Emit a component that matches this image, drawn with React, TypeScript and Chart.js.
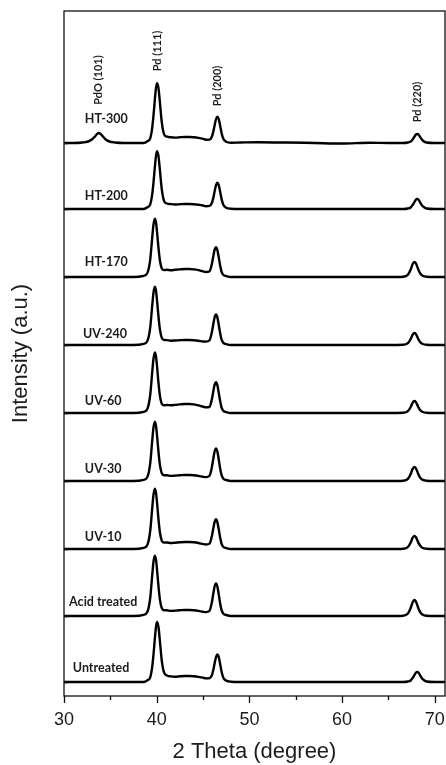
import { useEffect, useRef } from "react";
import { Chart, registerables } from "chart.js";
Chart.register(...registerables);

// 2θ sampling positions (degrees)
const twoTheta = [
  30, 31, 32,
  32.6, 33.0, 33.3, 33.55, 33.75, 33.95, 34.2, 34.5, 34.9, 35.5,
  36.5, 37.5, 38.6,
  39.0, 39.3, 39.5, 39.65, 39.8, 39.93, 40.05, 40.2, 40.35, 40.55, 40.8, 41.1,
  41.5, 42.0, 42.5, 43.0, 43.5, 44.0, 44.5, 45.0,
  45.3, 45.7, 45.95, 46.1, 46.25, 46.4, 46.55, 46.7, 46.85, 47.0, 47.2, 47.5, 48.0,
  49, 51, 54, 57, 60, 63, 65,
  66.6, 67.1, 67.4, 67.6, 67.8, 67.95, 68.1, 68.25, 68.45, 68.7, 69.1,
  70, 71.1,
];

// Intensities (a.u.) above each pattern's own baseline
const ht300 = [
  0, 0, 0.5,
  1.5, 3.5, 6.2, 8.8, 10, 9, 6.5, 3.5, 1.5, 0.5,
  0, 0, 0,
  1.8, 4.7, 14.2, 27.1, 43.4, 55.5, 59.9, 54.3, 40.2, 20.7, 8.6, 6.3,
  5.7, 5.4, 5.7, 6, 6, 5.7, 5.1, 4.2,
  3.3, 3.4, 6.2, 11.1, 17.8, 24, 26.4, 23.7, 17.1, 9.9, 3.9, 1.3, 0.3,
  0.5, 0.8, 0.5, 0, -0.5, 0.3, 0,
  0, 0.5, 1.4, 3.4, 6.3, 8.3, 9, 8.3, 5.6, 2.5, 0.5,
  0, 0,
];
const ht200 = [
  0, 0, 0,
  0, 0, 0, 0, 0, 0, 0, 0, 0, 0,
  0, 0, 0,
  1.7, 4.6, 13.7, 26.2, 41.9, 53.5, 57.8, 52.3, 38.6, 19.6, 7.9, 5.5,
  4.9, 4.5, 4.8, 5, 5, 4.8, 4.3, 3.5,
  2.8, 3.1, 6, 10.9, 17.7, 23.9, 26.4, 23.6, 17, 9.9, 3.9, 1.3, 0.3,
  0, 0, 0, 0, 0, 0, 0,
  0, 0.5, 1.5, 3.8, 7, 9.2, 10, 9.2, 6.2, 2.8, 0.5,
  0, 0,
];
const ht170 = [
  0, 0, 0,
  0, 0, 0, 0, 0, 0, 0, 0, 0, 0,
  0, 0, 1.2,
  4.1, 17.4, 37.7, 52.2, 58.4, 54.2, 43.5, 28.3, 16.3, 8.6, 6.9, 7.2,
  6.8, 7.2, 7.6, 8, 8, 7.6, 6.8, 5.6,
  5, 5.7, 13, 20.5, 27.3, 29.8, 26.7, 19.3, 11.2, 5.2, 2, 0.9, 0,
  0, 0, 0, 0, 0, 0, 0,
  0.3, 2.3, 7.5, 12.8, 15, 13.8, 10.5, 6.8, 3.3, 1.2, 0.3,
  0, 0,
];
const uv240 = [
  0, 0, 0,
  0, 0, 0, 0, 0, 0, 0, 0, 0, 0,
  0, 0, 1.2,
  4.1, 17.4, 37.7, 52.2, 58.3, 53.9, 43.1, 27.7, 15.4, 7.1, 5, 4.9,
  4.3, 4.5, 4.8, 5, 5, 4.8, 4.3, 3.5,
  3.4, 4.8, 12.7, 20.5, 27.8, 30.5, 27.4, 19.8, 11.5, 5.4, 2.1, 0.9, 0,
  0, 0, 0, 0, 0, 0, 0,
  0.2, 1.8, 6, 10.2, 12, 11, 8.4, 5.4, 2.6, 1, 0.2,
  0, 0,
];
const uv60 = [
  0, 0, 0,
  0, 0, 0, 0, 0, 0, 0, 0, 0, 0,
  0, 0, 1.2,
  4.2, 18, 39, 54, 60.5, 56.1, 45.2, 29.4, 17.1, 9.3, 7.7, 8,
  7.7, 8.1, 8.6, 9, 9, 8.6, 7.7, 6.3,
  5.6, 6.2, 13.7, 21.3, 28.4, 30.9, 27.6, 19.9, 11.7, 5.4, 2.1, 0.9, 0,
  0, 0, 0, 0, 0, 0, 0,
  0.2, 1.8, 6, 10.2, 12, 11, 8.4, 5.4, 2.6, 1, 0.2,
  0, 0,
];
const uv30 = [
  0, 0, 0,
  0, 0, 0, 0, 0, 0, 0, 0, 0, 0,
  0, 0, 1.2,
  4.1, 17.7, 38.4, 53.1, 59.3, 54.9, 44, 28.3, 15.9, 7.7, 5.7, 5.7,
  5.1, 5.4, 5.7, 6, 6, 5.7, 5.1, 4.2,
  3.9, 5.3, 13.7, 22, 29.7, 32.6, 29.2, 21.1, 12.3, 5.8, 2.2, 1, 0,
  0, 0, 0, 0, 0, 0, 0,
  0.3, 2.1, 7, 11.9, 14, 12.9, 9.8, 6.3, 3.1, 1.1, 0.3,
  0, 0,
];
const uv10 = [
  0, 0, 0,
  0, 0, 0, 0, 0, 0, 0, 0, 0, 0,
  0, 0, 1.2,
  4.2, 18, 39, 54, 60.4, 55.9, 44.9, 29, 16.5, 8.3, 6.4, 6.5,
  6, 6.3, 6.7, 7, 7, 6.7, 6, 4.9,
  4.5, 5.4, 12.8, 20.3, 27.2, 29.7, 26.6, 19.2, 11.2, 5.2, 2, 0.9, 0,
  0, 0, 0, 0, 0, 0, 0,
  0.3, 2, 6.5, 11.1, 13, 12, 9.1, 5.9, 2.9, 1, 0.3,
  0, 0,
];
const acidTreated = [
  0, 0, 0,
  0, 0, 0, 0, 0, 0, 0, 0, 0, 0,
  0, 0, 1.2,
  4.2, 18, 39, 54, 60.3, 55.8, 44.7, 28.8, 16.2, 7.8, 5.7, 5.7,
  5.1, 5.4, 5.7, 6, 6, 5.7, 5.1, 4.2,
  3.9, 5.3, 13.7, 22, 29.7, 32.6, 29.2, 21.1, 12.3, 5.8, 2.2, 1, 0,
  0, 0, 0, 0, 0, 0, 0,
  0.3, 2.4, 8, 13.6, 16, 14.7, 11.2, 7.2, 3.5, 1.3, 0.3,
  0, 0,
];
const untreated = [
  0, 0, 0,
  0, 0, 0, 0, 0, 0, 0, 0, 0, 0,
  0, 0, 0,
  1.8, 4.7, 14.2, 27.1, 43.4, 55.6, 60, 54.5, 40.5, 21.2, 9.3, 6.5,
  5.6, 5.3, 5.7, 6, 6, 5.7, 5.1, 4.3,
  3.6, 3.7, 6.7, 11.7, 18.7, 25, 27.5, 24.7, 17.8, 10.3, 4.1, 1.4, 0.3,
  0, 0, 0, 0, 0, 0, 0,
  0, 0.5, 1.5, 3.8, 7, 9.2, 10, 9.2, 6.2, 2.8, 0.5,
  0, 0,
];

const sampleNames = ["HT-300", "HT-200", "HT-170", "UV-240", "UV-60", "UV-30", "UV-10", "Acid treated", "Untreated"];
const sampleSeries = [ht300, ht200, ht170, uv240, uv60, uv30, uv10, acidTreated, untreated];
// vertical stacking offset of each pattern (a.u.)
const stackOffsets = [553, 487, 419, 351, 283, 215, 147, 80, 14];
// sample label anchor: 2θ of label's left edge, height above baseline
const labelTheta = [32.25, 32.25, 32.25, 32.05, 32.25, 32.25, 32.25, 30.55, 30.95];
const labelRise = [24, 13, 15, 11, 12, 12, 12, 14, 14];

const peakNames = ["PdO (101)", "Pd (111)", "Pd (200)", "Pd (220)"];
const peakTheta = [33.77, 40.03, 46.6, 68.17];
const peakLabelLevel = [616, 645, 610, 594];

const xMajorTicks = [30, 40, 50, 60, 70];
const xMinorTicks = [35, 45, 55, 65];
const xMin = 30;
const xMax = 71.1;
const yMin = 0;
const yMax = 685;

const overlay = {
  id: "overlay",
  afterDatasetsDraw(chart: any) {
    const { ctx, chartArea: a, scales } = chart;
    const x = scales.x;
    const y = scales.y;
    ctx.save();
    ctx.strokeStyle = "#111";
    ctx.lineWidth = 1.3;
    ctx.strokeRect(a.left, a.top, a.right - a.left, a.bottom - a.top);
    ctx.beginPath();
    for (const v of xMajorTicks) {
      const px = Math.round(x.getPixelForValue(v)) + 0.5;
      ctx.moveTo(px, a.bottom);
      ctx.lineTo(px, a.bottom + 7);
    }
    for (const v of xMinorTicks) {
      const px = Math.round(x.getPixelForValue(v)) + 0.5;
      ctx.moveTo(px, a.bottom);
      ctx.lineTo(px, a.bottom + 4);
    }
    for (const v of stackOffsets) {
      const py = Math.round(y.getPixelForValue(v)) + 0.5;
      ctx.moveTo(a.left, py);
      ctx.lineTo(a.left + 4, py);
    }
    ctx.stroke();

    ctx.fillStyle = "#1c1c1c";
    ctx.font = "bold 12.5px Lato";
    ctx.textAlign = "left";
    ctx.textBaseline = "middle";
    sampleNames.forEach((name, i) => {
      ctx.fillText(name, x.getPixelForValue(labelTheta[i]), y.getPixelForValue(stackOffsets[i] + labelRise[i]));
    });

    ctx.font = "bold 11px Lato";
    ctx.textAlign = "center";
    peakNames.forEach((name, i) => {
      ctx.save();
      ctx.translate(x.getPixelForValue(peakTheta[i]), y.getPixelForValue(peakLabelLevel[i]));
      ctx.rotate(-Math.PI / 2);
      ctx.fillText(name, 0, 0);
      ctx.restore();
    });
    ctx.restore();
  },
};

export default function App() {
  const ref = useRef<HTMLCanvasElement | null>(null);
  useEffect(() => {
    document.body.style.margin = "0";
    const canvas = ref.current;
    if (!canvas) return;
    const datasets = sampleSeries.map((series, i) => ({
      label: sampleNames[i],
      data: twoTheta.map((t, k) => ({ x: t, y: series[k] + stackOffsets[i] })),
      borderColor: "#000",
      borderWidth: 2.4,
      pointRadius: 0,
      fill: false,
      cubicInterpolationMode: "monotone" as const,
    }));
    const chart = new Chart(canvas, {
      type: "line",
      data: { datasets },
      options: {
        animation: false,
        responsive: false,
        devicePixelRatio: 1,
        layout: { padding: { top: 11, right: 1, left: 0, bottom: 0 } },
        plugins: { legend: { display: false }, tooltip: { enabled: false } },
        scales: {
          x: {
            type: "linear",
            min: xMin,
            max: xMax,
            grid: { display: false, drawTicks: false },
            border: { display: false },
            afterBuildTicks: (s: any) => {
              s.ticks = xMajorTicks.map((v) => ({ value: v }));
            },
            afterFit: (s: any) => {
              s.height = 69;
              s.paddingLeft = 0;
              s.paddingRight = 0;
            },
            ticks: {
              autoSkip: false,
              maxRotation: 0,
              padding: 13,
              color: "#1c1c1c",
              font: { family: "'Liberation Sans', Arial, sans-serif", size: 18 },
            },
            title: {
              display: true,
              text: "2 Theta (degree)",
              color: "#1c1c1c",
              font: { family: "'Liberation Sans', Arial, sans-serif", size: 22 },
              padding: { top: 0, bottom: 0 },
            },
          },
          y: {
            type: "linear",
            min: yMin,
            max: yMax,
            grid: { display: false, drawTicks: false },
            border: { display: false },
            ticks: { display: false },
            afterFit: (s: any) => {
              s.width = 64;
            },
            title: {
              display: true,
              text: "Intensity (a.u.)",
              color: "#1c1c1c",
              font: { family: "'Liberation Sans', Arial, sans-serif", size: 22 },
              padding: { top: 8, bottom: 0 },
            },
          },
        },
      },
      plugins: [overlay],
    });
    return () => chart.destroy();
  }, []);
  return (
    <div style={{ width: 446, height: 765, background: "#fff" }}>
      <canvas ref={ref} width={446} height={765} style={{ display: "block" }} />
    </div>
  );
}
